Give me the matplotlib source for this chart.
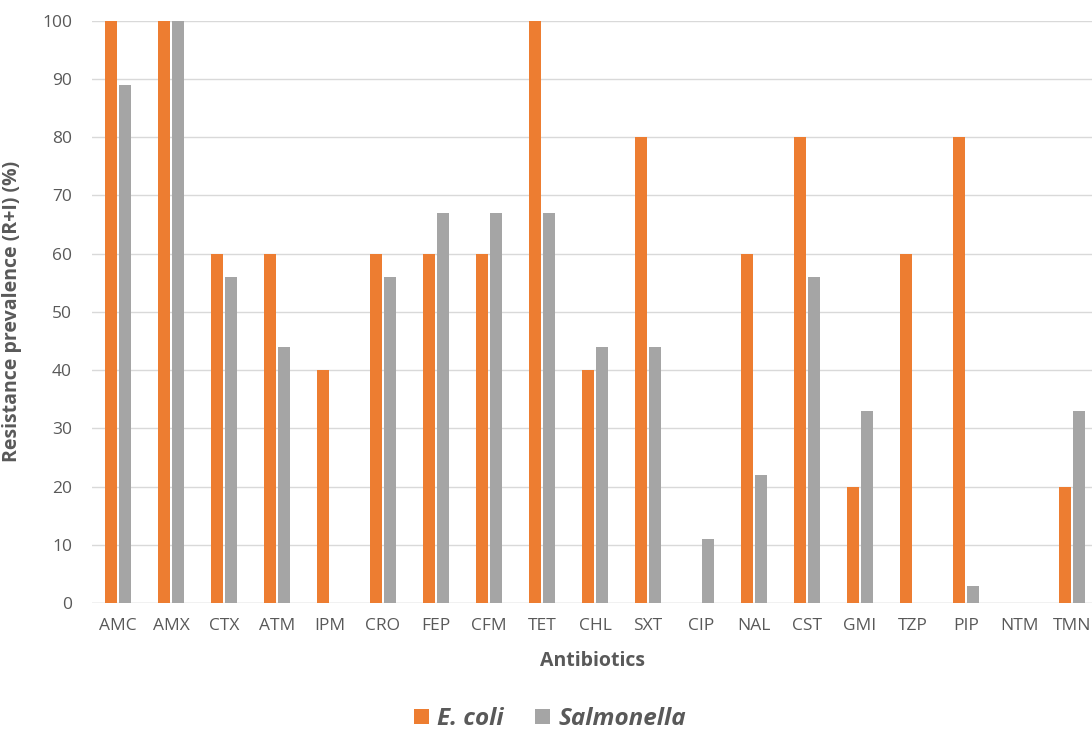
import matplotlib
matplotlib.use("Agg")
import matplotlib.pyplot as plt
import numpy as np

categories = ["AMC", "AMX", "CTX", "ATM", "IPM", "CRO", "FEP", "CFM", "TET", "CHL",
              "SXT", "CIP", "NAL", "CST", "GMI", "TZP", "PIP", "NTM", "TMN"]
ecoli = [100, 100, 60, 60, 40, 60, 60, 60, 100, 40, 80, 0, 60, 80, 20, 60, 80, 0, 20]
salmonella = [89, 100, 56, 44, 0, 56, 67, 67, 67, 44, 44, 11, 22, 56, 33, 0, 3, 0, 33]
yticks = list(range(0, 101, 10))

plt.rcParams['font.family'] = ['Open Sans', 'DejaVu Sans']
txt = "#595959"

fig = plt.figure(figsize=(10.92, 7.31), dpi=100)
ax = fig.add_axes([91.5 / 1092, (731 - 603) / 731, 1007 / 1092, 582.3 / 731])

x = np.arange(len(categories))
w = 0.225
ax.bar(x - 0.135, ecoli, width=w, color="#ED7D31", label="E. coli", zorder=3)
ax.bar(x + 0.14, salmonella, width=w, color="#A5A5A5", label="Salmonella", zorder=3)

ax.set_xlim(-0.5, len(categories) - 0.5)
ax.set_ylim(0, 100)
ax.set_yticks(yticks)
ax.set_xticks(x)
ax.set_xticklabels(categories)
ax.yaxis.grid(True, color="#D9D9D9", linewidth=1, zorder=0)
ax.set_axisbelow(True)
for s in ax.spines.values():
    s.set_visible(False)
ax.axhline(0, color="#D9D9D9", linewidth=1, zorder=1)
ax.tick_params(axis="both", length=0, labelsize=12.5, colors=txt)
ax.tick_params(axis="x", pad=11)
ax.tick_params(axis="y", pad=14)

ax.set_xlabel("Antibiotics", fontsize=14, fontweight="bold", color=txt, va="center")
ax.xaxis.set_label_coords((593 - 91.5) / 1007, -(661 - 603) / 582.3)
ax.set_ylabel("Resistance prevalence (R+I) (%)", fontsize=14, fontweight="bold", color=txt, va="center")
ax.yaxis.set_label_coords((12 - 91.5) / 1007, (603 - 311) / 582.3)

leg = fig.legend(loc="center", bbox_to_anchor=(550 / 1092, 1 - 719 / 731), ncol=2, frameon=False,
                 handlelength=0.6, handleheight=0.6, handletextpad=0.35, columnspacing=1.3,
                 prop={"size": 17.5, "weight": "bold", "style": "italic"})
for t in leg.get_texts():
    t.set_color(txt)

fig.savefig("out.png", dpi=100)
